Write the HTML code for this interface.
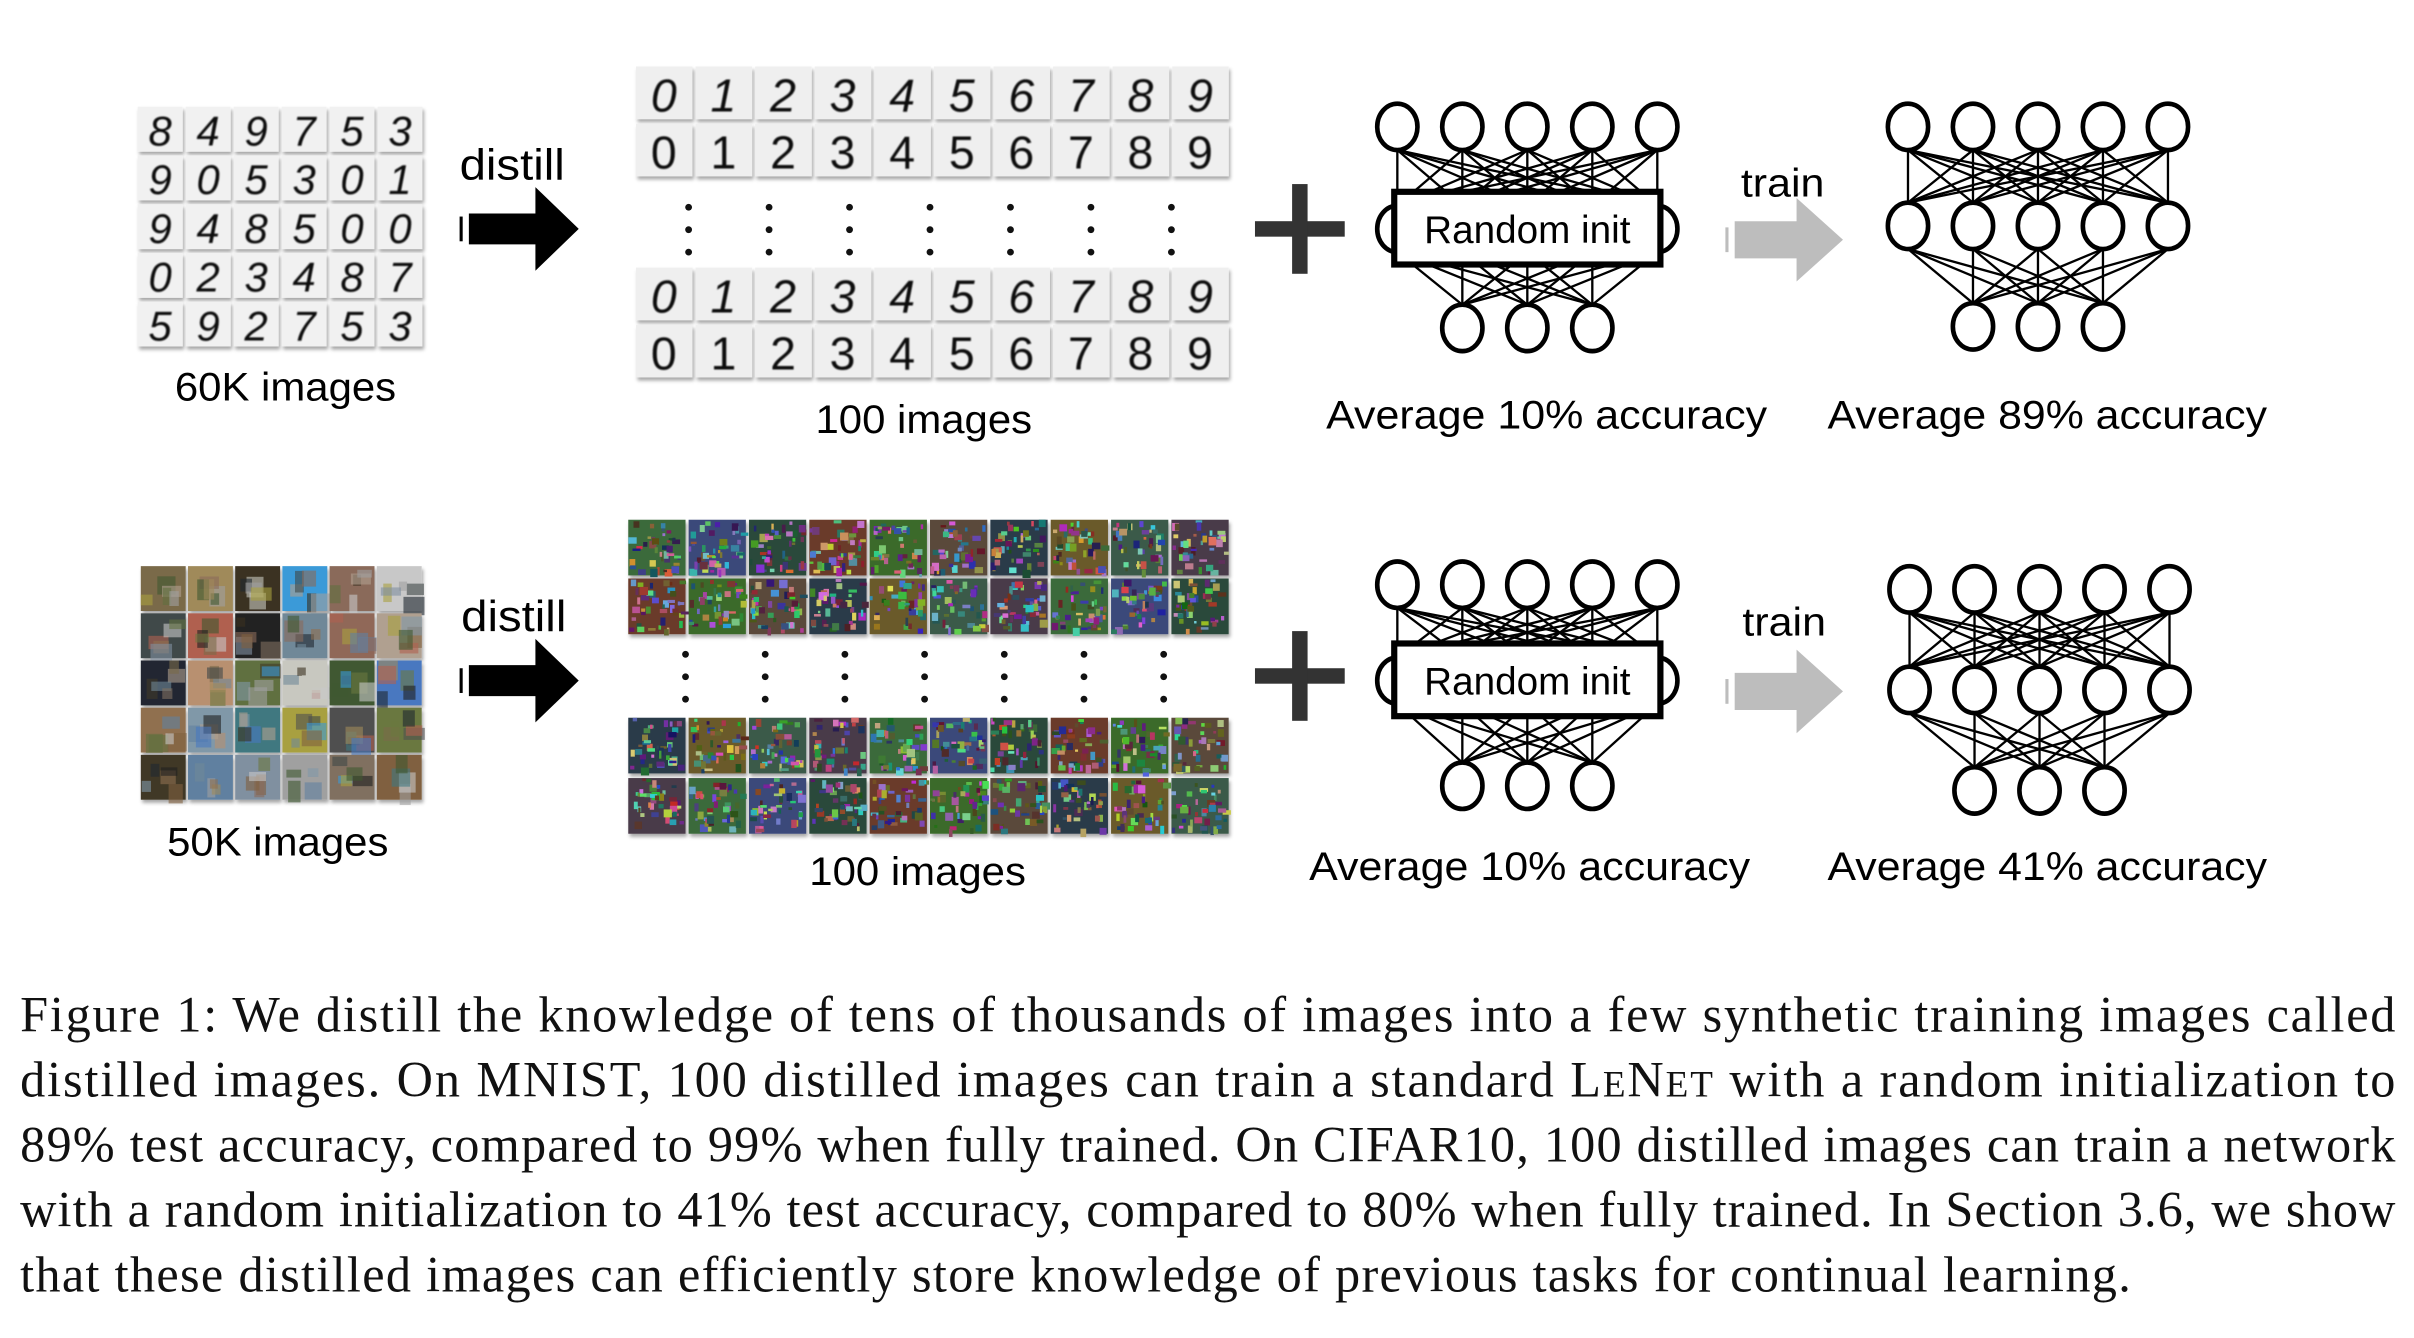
<!DOCTYPE html>
<html><head><meta charset="utf-8">
<style>
html,body{margin:0;padding:0;background:#fff;}
svg{display:block;}
.s{font-family:"Liberation Sans",sans-serif;}
.cap{font-family:"Liberation Serif",serif;font-size:32.5px;fill:#111;}
</style></head>
<body>
<svg id="sv" width="2414" height="1338" viewBox="0 0 1560 865" preserveAspectRatio="none" xmlns="http://www.w3.org/2000/svg">
<defs>
<filter id="sh" x="-10%" y="-10%" width="130%" height="130%"><feDropShadow dx="1" dy="2" stdDeviation="1.2" flood-color="#000" flood-opacity="0.35"/></filter>
<filter id="bl"><feGaussianBlur stdDeviation="0.6"/></filter>
</defs>
<g id="g"></g>

<text class="s" x="113" y="259" font-size="26" textLength="143" lengthAdjust="spacingAndGlyphs">60K images</text>
<text class="s" x="297" y="116" font-size="28" textLength="68" lengthAdjust="spacingAndGlyphs">distill</text>
<text class="s" x="527" y="280" font-size="26" textLength="140" lengthAdjust="spacingAndGlyphs">100 images</text>
<text class="s" x="857" y="277" font-size="26" textLength="285" lengthAdjust="spacingAndGlyphs">Average 10% accuracy</text>
<text class="s" x="1181" y="277" font-size="26" textLength="284" lengthAdjust="spacingAndGlyphs">Average 89% accuracy</text>
<text class="s" x="1125" y="127" font-size="26" textLength="54" lengthAdjust="spacingAndGlyphs">train</text>

<text class="s" x="108" y="553" font-size="26" textLength="143" lengthAdjust="spacingAndGlyphs">50K images</text>
<text class="s" x="298" y="408" font-size="28" textLength="68" lengthAdjust="spacingAndGlyphs">distill</text>
<text class="s" x="523" y="572" font-size="26" textLength="140" lengthAdjust="spacingAndGlyphs">100 images</text>
<text class="s" x="846" y="569" font-size="26" textLength="285" lengthAdjust="spacingAndGlyphs">Average 10% accuracy</text>
<text class="s" x="1181" y="569" font-size="26" textLength="284" lengthAdjust="spacingAndGlyphs">Average 41% accuracy</text>
<text class="s" x="1126" y="411" font-size="26" textLength="54" lengthAdjust="spacingAndGlyphs">train</text>

<text class="cap" x="13" y="667" textLength="1535" lengthAdjust="spacing">Figure 1: We distill the knowledge of tens of thousands of images into a few synthetic training images called</text>
<text class="cap" x="13" y="709" textLength="1535" lengthAdjust="spacing">distilled images. On MNIST, 100 distilled images can train a standard L<tspan font-size="24">E</tspan>N<tspan font-size="24">ET</tspan> with a random initialization to</text>
<text class="cap" x="13" y="751" textLength="1535" lengthAdjust="spacing">89% test accuracy, compared to 99% when fully trained. On CIFAR10, 100 distilled images can train a network</text>
<text class="cap" x="13" y="793" textLength="1535" lengthAdjust="spacing">with a random initialization to 41% test accuracy, compared to 80% when fully trained. In Section 3.6, we show</text>
<text class="cap" x="13" y="835" textLength="1364" lengthAdjust="spacing">that these distilled images can efficiently store knowledge of previous tasks for continual learning.</text>
</svg>
<script>
(function(){
var NS="http://www.w3.org/2000/svg",g=document.getElementById("g");
function el(t,a,p){var e=document.createElementNS(NS,t);for(var k in a)e.setAttribute(k,a[k]);(p||g).appendChild(e);return e;}
var seed=7;function r(){seed=(seed*16807)%2147483647;return seed/2147483647;}
var mn=["849753","905301","948500","023487","592753"];
for(var i=0;i<5;i++)for(var j=0;j<6;j++){
 var x=89+j*31,y=69+i*31.5;
 el("rect",{x:x,y:y,width:29,height:29,fill:"#f1f1f1",filter:"url(#sh)"});
 var t=el("text",{x:x+14.5,y:y+25,"font-size":27,"text-anchor":"middle","font-family":"Liberation Sans, sans-serif","font-style":"italic",fill:"#111",filter:"url(#bl)"});t.textContent=mn[i][j];
}
var rows=[43,80,173,210];
for(var k=0;k<4;k++)for(var j=0;j<10;j++){
 var x=411+j*38.5,y=rows[k];
 el("rect",{x:x,y:y,width:36.5,height:34,fill:"#efefef",filter:"url(#sh)"});
 var t=el("text",{x:x+18,y:y+29,"font-size":30,"text-anchor":"middle","font-family":"Liberation Sans, sans-serif","font-style":(k%2?"normal":"italic"),fill:"#111",filter:"url(#bl)"});t.textContent=j;
}
function dots(y0,x0,dx){for(var c=0;c<7;c++)for(var d=0;d<3;d++)el("circle",{cx:x0+c*dx,cy:y0+d*14.5,r:2.2,fill:"#111"});}
dots(134,445,52);dots(423,443,51.5);
var pal=["#7a6a4a","#a08a5a","#3a3020","#3a9ad8","#8a6a5a","#c8c8c8","#404848","#b06050","#202020","#708898","#906858","#b0a090","#202830","#b89070","#607040","#c8c8c0","#405830","#4878c0","#907050","#8098a8","#407880","#a8a040","#505050","#6a7840","#403828","#6080a0","#8090a0","#a0a0a0","#807060","#806040"];
for(var i=0;i<5;i++)for(var j=0;j<6;j++){
 var x=91+j*30.5,y=366+i*30.5,c=pal[i*6+j];
 el("rect",{x:x,y:y,width:29,height:29,fill:c,filter:"url(#sh)"});
 for(var q=0;q<5;q++)el("rect",{x:x+r()*20,y:y+r()*20,width:5+r()*9,height:5+r()*9,fill:pal[Math.floor(r()*30)],opacity:0.6});
}
var cols=["#3a6a3a","#3a4a7a","#2a4a3a","#6a3a2a","#3a6a2a","#5a4a3a","#2a3a4a","#6a5a2a","#3a5a4a","#4a3a4a"];
var crow=[336,374,464,503];
for(var k=0;k<4;k++)for(var j=0;j<10;j++){
 var x=406+j*39,y=crow[k];
 el("rect",{x:x,y:y,width:37,height:36,fill:cols[(j+k*3)%10],filter:"url(#sh)"});
 for(var q=0;q<40;q++){var hh=Math.floor(r()*360);el("rect",{x:x+r()*34,y:y+r()*33,width:1.5+r()*4,height:1.5+r()*4,fill:"hsl("+hh+","+(30+r()*40)+"%,"+(20+r()*45)+"%)"});}
}
function barrow(yc,fill,x0,x1,x2,hh,sh,tick){
 el("polygon",{points:(x0)+","+(yc-sh)+" "+x1+","+(yc-sh)+" "+x1+","+(yc-hh)+" "+x2+","+yc+" "+x1+","+(yc+hh)+" "+x1+","+(yc+sh)+" "+x0+","+(yc+sh),fill:fill});
 el("rect",{x:tick,y:yc-8,width:2,height:16,fill:fill});
}
barrow(148,"#000",303,346,374,27,10,297);
barrow(440,"#000",303,346,374,27,10,297);
barrow(155,"#bdbdbd",1121,1161,1191,27,12,1115);
barrow(447,"#bdbdbd",1121,1161,1191,27,12,1115);
function plus(cx,cy){el("rect",{x:cx-29,y:cy-5,width:58,height:10,fill:"#333"});el("rect",{x:cx-5,y:cy-29,width:10,height:58,fill:"#333"});}
plus(840,148);plus(840,437);
function net(x0,yt,ym,yb,box){
 var top=[],mid=[],bot=[];
 for(var i=0;i<5;i++){top.push(x0+i*42);mid.push(x0+i*42);}
 for(var i=1;i<4;i++)bot.push(x0+i*42);
 var rx=13,ry=15;
 top.forEach(function(a){mid.forEach(function(b){el("line",{x1:a,y1:yt+ry,x2:b,y2:ym-ry,stroke:"#000","stroke-width":1.5});});});
 mid.forEach(function(a){bot.forEach(function(b){el("line",{x1:a,y1:ym+ry,x2:b,y2:yb-ry,stroke:"#000","stroke-width":1.5});});});
 top.forEach(function(a){el("ellipse",{cx:a,cy:yt,rx:rx,ry:ry,fill:"#fff",stroke:"#000","stroke-width":3});});
 mid.forEach(function(a){el("ellipse",{cx:a,cy:ym,rx:rx,ry:ry,fill:"#fff",stroke:"#000","stroke-width":3});});
 bot.forEach(function(a){el("ellipse",{cx:a,cy:yb,rx:rx,ry:ry,fill:"#fff",stroke:"#000","stroke-width":3});});
 if(box){el("rect",{x:x0-2,y:ym-24,width:172,height:47,fill:"#fff",stroke:"#000","stroke-width":4});
  var t=el("text",{x:x0+84,y:ym+9,"font-size":25,"text-anchor":"middle","font-family":"Liberation Sans, sans-serif"});t.textContent="Random init";}
}
net(903,82,148,212,true);
net(1233,82,146,211,false);
net(903,378,440,508,true);
net(1234,381,446,511,false);
})();
</script>
</body></html>
